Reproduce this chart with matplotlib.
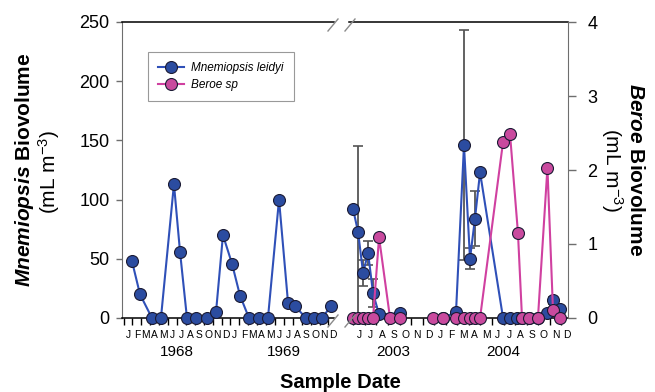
import numpy as np
import matplotlib
matplotlib.use('Agg')
import matplotlib.pyplot as plt
from matplotlib.lines import Line2D
from matplotlib.ticker import FixedLocator
import matplotlib.transforms as mtransforms

plt.rcParams['font.family'] = ['Liberation Sans', 'DejaVu Sans']
plt.rcParams['mathtext.fontset'] = 'custom'
plt.rcParams['mathtext.rm'] = 'Liberation Sans'
plt.rcParams['mathtext.it'] = 'Liberation Sans:italic'
plt.rcParams['mathtext.bf'] = 'Liberation Sans:bold'
plt.rcParams['mathtext.bfit'] = 'Liberation Sans:italic:bold'
plt.rcParams['mathtext.default'] = 'regular'

# ---------------- data ----------------
month_letters = ['J', 'F', 'M', 'A', 'M', 'J', 'J', 'A', 'S', 'O', 'N', 'D']
years_early = ['1968', '1969']
years_late = ['2003', '2004']

# 1968-1969: x = months since January 1968 (label of a month at its integer)
mnem_6869_month = [0.45, 1.35, 2.69, 3.70, 5.16, 5.84, 6.62, 7.63, 8.87, 9.88, 10.66,
                   11.67, 12.57, 13.58, 14.70, 15.71, 16.95, 17.96, 18.74, 19.98,
                   20.88, 21.77, 22.78]
mnem_6869_vol = [48, 20, 0, 0, 113, 56, 0, 0, 0, 5, 70,
                 46, 19, 0, 0, 0, 100, 13, 10, 0,
                 0, 0, 10]

# 2003-2004: x = months since June 2003
mnem_2003_month = [-0.52, -0.09, 0.35, 0.78, 1.21, 1.73, 3.55]
mnem_2003_vol = [92, 73, 38, 55, 21, 3, 4]
mnem_2003_err = [0, 72, 11, 10, 12, 0, 0]

mnem_2004_month = [7.27, 8.39, 9.08, 9.60, 10.03, 10.47, 12.46, 13.06, 13.67, 14.10,
                   14.71, 15.48, 16.26, 16.78, 17.39]
mnem_2004_vol = [0, 5, 146, 50, 84, 123, 0, 0, 0, 0,
                 0, 0, 4, 15, 8]
mnem_2004_err = [0, 0, 97, 9, 23, 0, 0, 0, 0, 0,
                 0, 0, 0, 3, 0]

beroe_2003_month = [-0.52, -0.09, 0.35, 0.78, 1.21, 1.73, 2.68, 3.55]
beroe_2003_vol = [0, 0, 0, 0, 0, 1.09, 0, 0]

beroe_2004_month = [6.40, 7.27, 8.39, 9.08, 9.60, 10.03, 10.47, 12.46, 13.06, 13.75,
                    14.10, 14.71, 15.48, 16.30, 16.78, 17.39]
beroe_2004_vol = [0, 0, 0, 0, 0, 0, 0, 2.38, 2.49, 1.15,
                  0, 0, 0, 2.03, 0.11, 0]

# ---------------- style ----------------
W, H = 655, 392
BLUE_FILL = '#2B4CA0'
BLUE_LINE = '#2F50B8'
PINK_FILL = '#C94A9E'
PINK_LINE = '#D040A0'
EDGE = '#1a1a33'
GREY = '#6e6e6e'
MS = 8.6

fig = plt.figure(figsize=(W / 100, H / 100), dpi=100)

def fx(px):
    return px / W

def fy(py):
    return 1 - py / H

ax_top, ax_bot = 22, 318
axL = fig.add_axes([fx(122), fy(ax_bot), fx(334) - fx(122), fy(ax_top) - fy(ax_bot)])
axR = fig.add_axes([fx(349), fy(ax_bot), fx(568) - fx(349), fy(ax_top) - fy(ax_bot)])
axR2 = axR.twinx()

axL.set_xlim(-0.67, 23.12)
axR.set_xlim(-0.87, 18.08)
for a in (axL, axR):
    a.set_ylim(0, 250)
axR2.set_ylim(0, 4)

line_kw = dict(marker='o', markersize=MS, markeredgecolor=EDGE, markeredgewidth=0.8,
               linewidth=1.5, clip_on=False)

# 1968-69
hb, = axL.plot(mnem_6869_month, mnem_6869_vol, color=BLUE_LINE, markerfacecolor=BLUE_FILL,
               zorder=3, **line_kw)

# 2003-04 Mnemiopsis with error bars
for mx, mv, me in ((mnem_2003_month, mnem_2003_vol, mnem_2003_err),
                   (mnem_2004_month, mnem_2004_vol, mnem_2004_err)):
    mx, mv, me = np.array(mx), np.array(mv, float), np.array(me, float)
    sel = me > 0
    axR.errorbar(mx[sel], mv[sel], yerr=me[sel], fmt='none', ecolor='#555555',
                 elinewidth=1.3, capsize=3.5, capthick=1.2, zorder=2, clip_on=False)
    axR.plot(mx, mv, color=BLUE_LINE, markerfacecolor=BLUE_FILL, zorder=3, **line_kw)

# Beroe on right axis
for bx, bv in ((beroe_2003_month, beroe_2003_vol), (beroe_2004_month, beroe_2004_vol)):
    hp, = axR2.plot(bx, bv, color=PINK_LINE, markerfacecolor=PINK_FILL, zorder=3, **line_kw)

# ---------------- axes styling ----------------
for a in (axL, axR, axR2):
    for s in a.spines.values():
        s.set_visible(False)
    a.patch.set_visible(False)

axL.spines['left'].set_visible(True)
axL.spines['left'].set_color(GREY)
for a in (axL, axR):
    for side in ('top', 'bottom'):
        a.spines[side].set_visible(True)
        a.spines[side].set_color('black')
        a.spines[side].set_linewidth(1.1)
axR2.spines['right'].set_visible(True)
axR2.spines['right'].set_color(GREY)

axL.set_yticks([0, 50, 100, 150, 200, 250])
axL.tick_params(axis='y', direction='out', length=4, width=1, color=GREY, pad=5, labelsize=13)
axR.tick_params(axis='y', left=False, labelleft=False, right=False)
axR2.set_yticks([0, 1, 2, 3, 4])
axR2.tick_params(axis='y', direction='out', length=6, width=1, color=GREY, pad=8, labelsize=13)

# month ticks
early_pos = list(range(24))
late_pos = list(range(19))
early_labels = month_letters * 2
late_labels = month_letters[5:] + month_letters
axL.set_xticks(early_pos)
axL.set_xticklabels(early_labels)
axR.set_xticks(late_pos)
axR.set_xticklabels(late_labels)
axL.xaxis.set_minor_locator(FixedLocator([p - 0.5 for p in early_pos]))
axR.xaxis.set_minor_locator(FixedLocator([p - 0.5 for p in late_pos]))
for a in (axL, axR):
    a.tick_params(axis='x', which='major', length=0, pad=9, labelsize=7.4)
    a.tick_params(axis='x', which='minor', length=5, width=1, color='black', direction='out')
axR2.tick_params(axis='x', bottom=False, labelbottom=False)

# year labels
year_y = fy(352)
trL = mtransforms.blended_transform_factory(axL.transData, fig.transFigure)
trR = mtransforms.blended_transform_factory(axR.transData, fig.transFigure)
for i, yr in enumerate(years_early):
    axL.text(np.mean(early_pos[i * 12:(i + 1) * 12]), year_y, yr, transform=trL,
             ha='center', va='center', fontsize=11)
axR.text(np.mean(late_pos[:7]), year_y, years_late[0], transform=trR,
         ha='center', va='center', fontsize=11)
axR.text(np.mean(late_pos[7:]), year_y, years_late[1], transform=trR,
         ha='center', va='center', fontsize=11)

# axis titles
fig.text(fx(340), fy(383), 'Sample Date', ha='center', va='center', fontsize=14.5,
         fontweight='bold')
fig.text(fx(25), fy(170), r'$\mathbfit{Mnemiopsis}$ Biovolume', rotation=90,
         ha='center', va='center', fontsize=15, fontweight='bold')
fig.text(fx(49), fy(172), r'(mL m$^{-3}$)', rotation=90,
         ha='center', va='center', fontsize=15)
fig.text(fx(635), fy(170), r'$\mathbfit{Beroe}$ Biovolume', rotation=-90,
         ha='center', va='center', fontsize=15, fontweight='bold')
fig.text(fx(612), fy(170), r'(mL m$^{-3}$)', rotation=-90,
         ha='center', va='center', fontsize=15)

# break marks
for cx in (333, 350):
    for cy in (25, 321):
        fig.add_artist(Line2D([fx(cx - 5), fx(cx + 5)], [fy(cy + 6), fy(cy - 6)],
                              transform=fig.transFigure, color='#8a8a8a', linewidth=1.0))

# legend
leg = axL.legend([hb, hp], ['Mnemiopsis leidyi', 'Beroe sp'], loc='upper left',
                 bbox_to_anchor=(fx(148), fy(52)), bbox_transform=fig.transFigure,
                 borderaxespad=0, frameon=True, fancybox=False, edgecolor='#808080',
                 prop={'size': 8.5, 'style': 'italic'}, handlelength=2.2,
                 borderpad=0.85, labelspacing=0.45, handletextpad=0.6)
leg.get_frame().set_linewidth(0.8)

fig.savefig('out.png', dpi=100)
